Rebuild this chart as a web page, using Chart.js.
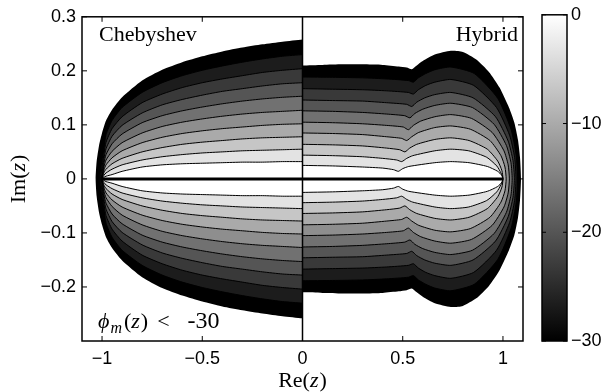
<!DOCTYPE html>
<html>
<head>
<meta charset="utf-8">
<script src="https://cdn.jsdelivr.net/npm/chart.js@4.4.1/dist/chart.umd.min.js"></script>
<style>
  html, body { margin: 0; padding: 0; background: #fff; }
  #wrap { position: relative; width: 608px; height: 392px; }
  #main { position: absolute; left: 0; top: 0; }
  #cbar { position: absolute; left: 530px; top: 0; }
</style>
</head>
<body>
<div id="wrap">
  <canvas id="main" width="530" height="392"></canvas>
  <canvas id="cbar" width="78" height="392"></canvas>
</div>
<script>
// contour levels, innermost (b1) to outermost (b10)
const levels = [-3, -6, -9, -12, -15, -18, -21, -24, -27, -30];
const xTicks = [-1, -0.5, 0, 0.5, 1];
const yTicks = [-0.2, -0.1, 0, 0.1, 0.2, 0.3];
const cbTicks = [-30, -20, -10, 0];
const cbRange = [-30, 0];

// Chebyshev (left half), upper side only - the plot is mirror symmetric in Im(z)
const chebX = [0, -0.1, -0.2, -0.3, -0.4, -0.5, -0.6, -0.7, -0.8, -0.9, -0.95, -0.98, -0.99];
const cheb1 = [.032, .032, .031, .031, .030, .029, .028, .026, .022, .014, .008, .005, .003];
const cheb2 = [.055, .054, .053, .052, .050, .048, .045, .041, .035, .026, .018, .011, .007];
const cheb3 = [.078, .077, .076, .074, .071, .068, .064, .058, .050, .038, .028, .018, .012];
const cheb4 = [.102, .101, .099, .096, .093, .089, .084, .077, .067, .052, .039, .026, .017];
const cheb5 = [.127, .125, .123, .120, .116, .111, .105, .097, .085, .067, .051, .035, .023];
const cheb6 = [.153, .151, .148, .144, .139, .133, .126, .117, .104, .083, .065, .045, .030];
const cheb7 = [.178, .176, .172, .167, .162, .155, .147, .137, .122, .099, .079, .056, .038];
const cheb8 = [.204, .201, .197, .191, .185, .178, .169, .157, .141, .115, .093, .068, .047];
const cheb9 = [.230, .227, .222, .216, .209, .201, .191, .178, .160, .132, .108, .082, .058];
// where each Chebyshev contour meets the real axis
const chebTipX = [-1.0, -1.0, -1.0, -1.0, -1.0, -1.0, -1.003, -1.007, -1.012];
const chebOuterX = [0, -0.1, -0.2, -0.3, -0.4, -0.5, -0.6, -0.7, -0.8, -0.9, -0.95, -0.98, -1.0, -1.015, -1.027, -1.032];
const chebOuterY = [.258, .254, .249, .243, .236, .227, .216, .202, .182, .151, .128, .108, .085, .062, .032, 0];

// Hybrid (right half), upper side, [Re, Im] pairs
const hyb1 = [[0,.025],[0.15,.024],[0.3,.022],[0.4,.020],[0.455,.017],[0.478,.014],[0.5,.019],[0.53,.023],[0.66,.030],[0.74,.032],[0.831,.030],[0.922,.023],[0.974,.014],[0.995,.006],[1.0,0]];
const hyb2 = [[0,.044],[0.15,.043],[0.3,.041],[0.4,.038],[0.47,.035],[0.495,.032],[0.52,.038],[0.55,.043],[0.66,.052],[0.74,.055],[0.829,.052],[0.919,.040],[0.969,.024],[0.99,.011],[1.0,0]];
const hyb3 = [[0,.064],[0.15,.063],[0.3,.061],[0.42,.057],[0.485,.054],[0.511,.050],[0.535,.057],[0.57,.064],[0.66,.073],[0.74,.076],[0.831,.071],[0.922,.055],[0.974,.033],[0.995,.015],[1.0,0]];
const hyb4 = [[0,.085],[0.15,.084],[0.3,.082],[0.42,.078],[0.495,.075],[0.52,.071],[0.545,.078],[0.58,.086],[0.66,.095],[0.74,.098],[0.837,.092],[0.935,.071],[0.99,.043],[1.010,.022],[1.016,0]];
const hyb5 = [[0,.105],[0.15,.104],[0.3,.102],[0.42,.099],[0.503,.096],[0.528,.091],[0.553,.099],[0.59,.107],[0.66,.115],[0.74,.119],[0.843,.112],[0.946,.086],[1.005,.052],[1.026,.026],[1.032,0]];
const hyb6 = [[0,.126],[0.15,.125],[0.3,.123],[0.42,.120],[0.51,.117],[0.536,.113],[0.56,.121],[0.6,.129],[0.66,.136],[0.74,.140],[0.848,.132],[0.956,.101],[1.017,.062],[1.040,.030],[1.046,0]];
const hyb7 = [[0,.146],[0.15,.145],[0.3,.144],[0.42,.141],[0.52,.138],[0.545,.134],[0.57,.142],[0.61,.150],[0.66,.156],[0.74,.160],[0.851,.150],[0.963,.115],[1.026,.070],[1.050,.034],[1.057,0]];
const hyb8 = [[0,.167],[0.15,.166],[0.3,.165],[0.42,.163],[0.528,.160],[0.553,.157],[0.578,.165],[0.615,.173],[0.66,.179],[0.74,.184],[0.854,.173],[0.968,.132],[1.033,.081],[1.058,.040],[1.065,0]];
const hyb9 = [[0,.1885],[0.15,.188],[0.3,.187],[0.42,.185],[0.528,.182],[0.553,.179],[0.578,.187],[0.615,.195],[0.66,.202],[0.74,.207],[0.857,.195],[0.974,.149],[1.041,.091],[1.066,.043],[1.073,0]];
const hybOuter = [[0,.210],[0.1,.211],[0.2,.212],[0.3,.212],[0.4,.211],[0.48,.208],[0.52,.206],[0.545,.203],[0.57,.210],[0.6,.218],[0.66,.230],[0.74,.237],[0.8,.235],[0.867,.221],[0.93,.198],[0.983,.169],[1.03,.132],[1.057,.104],[1.075,.072],[1.085,.040],[1.09,0]];

const chebCurves = [cheb1, cheb2, cheb3, cheb4, cheb5, cheb6, cheb7, cheb8, cheb9];
const hybCurves = [hyb1, hyb2, hyb3, hyb4, hyb5, hyb6, hyb7, hyb8, hyb9, hybOuter];

const SERIF = '"Liberation Serif", "DejaVu Serif", serif';
const SANS = '"Liberation Sans", Arial, sans-serif';
const tickFont = { family: SANS, size: 18 };
const fmt = v => v < 0 ? '\u2212' + String(-v) : String(v);

// gray colormap: innermost band white, outermost band (down to -30) black
function gray(k) {
  const g = Math.round(255 * (levels.length - 1 - k) / (levels.length - 1));
  return `rgb(${g},${g},${g})`;
}

// upper half + mirrored lower half -> closed outline
function closeShape(pts) {
  const low = pts.slice(0, -1).reverse().map(p => ({ x: p.x, y: -p.y }));
  return pts.concat(low);
}

const datasets = [];
function addShape(pts, k) {
  datasets.push({
    data: closeShape(pts),
    fill: 'shape',
    backgroundColor: gray(k),
    borderColor: '#000',
    borderWidth: k === 9 ? 0 : 1,
    pointRadius: 0,
    tension: 0.2,
    order: 10 + k
  });
}

chebCurves.forEach((ys, k) => {
  const pts = chebX.map((x, i) => ({ x, y: ys[i] }));
  pts.push({ x: chebTipX[k], y: 0 });
  addShape(pts, k);
});
addShape(chebOuterX.map((x, i) => ({ x, y: chebOuterY[i] })), 9);
hybCurves.forEach((c, k) => addShape(c.map(p => ({ x: p[0], y: p[1] })), k));

// lines Re = 0 and Im = 0
datasets.push({ data: [{ x: 0, y: -0.3 }, { x: 0, y: 0.3 }], borderColor: '#000', borderWidth: 1.5, pointRadius: 0, fill: false, order: 1 });
datasets.push({ data: [{ x: -1, y: 0 }, { x: 1, y: 0 }], borderColor: '#000', borderWidth: 3, pointRadius: 0, fill: false, order: 0 });

function drawRuns(ctx, runs, x, y, align) {
  let w = 0;
  runs.forEach(r => { ctx.font = r[1]; w += ctx.measureText(r[0]).width + (r[3] || 0); });
  let cx = align === 'center' ? x - w / 2 : align === 'right' ? x - w : x;
  runs.forEach(r => {
    ctx.font = r[1];
    ctx.fillText(r[0], cx, y + (r[2] || 0));
    cx += ctx.measureText(r[0]).width + (r[3] || 0);
  });
}

const frame = {
  id: 'frame',
  afterDraw(chart) {
    const { ctx, chartArea: a, scales: { x, y } } = chart;
    ctx.save();
    ctx.strokeStyle = '#000';
    ctx.lineWidth = 1;
    ctx.beginPath();
    xTicks.forEach(v => {
      const p = x.getPixelForValue(v);
      ctx.moveTo(p, a.bottom); ctx.lineTo(p, a.bottom - 5);
      ctx.moveTo(p, a.top); ctx.lineTo(p, a.top + 5);
    });
    yTicks.forEach(v => {
      const p = y.getPixelForValue(v);
      ctx.moveTo(a.left, p); ctx.lineTo(a.left + 5, p);
      ctx.moveTo(a.right, p); ctx.lineTo(a.right - 5, p);
    });
    ctx.stroke();
    ctx.lineWidth = 1.5;
    ctx.strokeRect(a.left, a.top, a.right - a.left, a.bottom - a.top);

    ctx.fillStyle = '#000';
    ctx.textAlign = 'left';
    ctx.textBaseline = 'alphabetic';
    const R = '22px ' + SERIF, I = 'italic 22px ' + SERIF, S = 'italic 16px ' + SERIF;
    drawRuns(ctx, [['Chebyshev', R]], a.left + 17, a.top + 24, 'left');
    drawRuns(ctx, [['Hybrid', R]], a.right - 5, a.top + 24, 'right');
    drawRuns(ctx, [['\u03d5', I, 0, 1], ['m', S, 5, 2], ['(', R], ['z', I, 0, 1], [')', R, 0, 9], ['<', R, 0, 18], ['-30', '24px ' + SERIF]],
      a.left + 16, a.bottom - 13, 'left');
    drawRuns(ctx, [['Re(', R], ['z', I, 0, 1], [')', R]], (a.left + a.right) / 2, 387, 'center');
    ctx.translate(25, (a.top + a.bottom) / 2);
    ctx.rotate(-Math.PI / 2);
    drawRuns(ctx, [['Im(', R], ['z', I, 0, 1], [')', R]], 0, 0, 'center');
    ctx.restore();
  }
};

new Chart(document.getElementById('main'), {
  type: 'line',
  data: { datasets },
  options: {
    responsive: false,
    animation: false,
    layout: { padding: { top: 12, right: 7, left: 0, bottom: 0 } },
    plugins: {
      legend: { display: false },
      tooltip: { enabled: false },
      filler: { drawTime: 'beforeDatasetsDraw' }
    },
    scales: {
      x: {
        type: 'linear', min: -1.1, max: 1.1,
        afterBuildTicks: s => { s.ticks = xTicks.map(v => ({ value: v })); },
        afterFit: s => { s.height = 51; },
        grid: { display: false, drawTicks: false },
        border: { display: false },
        ticks: { padding: 7, color: '#000', font: tickFont, maxRotation: 0, autoSkip: false, callback: fmt }
      },
      y: {
        type: 'linear', min: -0.3, max: 0.3,
        afterBuildTicks: s => { s.ticks = yTicks.map(v => ({ value: v })); },
        afterFit: s => { s.width = 82; },
        grid: { display: false, drawTicks: false },
        border: { display: false },
        ticks: { padding: 6, color: '#000', font: tickFont, autoSkip: false, callback: fmt }
      }
    }
  },
  plugins: [frame]
});

// colorbar
const cbFrame = {
  id: 'cbFrame',
  afterDraw(chart) {
    const { ctx, chartArea: a, scales: { y } } = chart;
    ctx.save();
    ctx.strokeStyle = '#000';
    ctx.lineWidth = 1;
    ctx.beginPath();
    cbTicks.forEach(v => {
      const p = y.getPixelForValue(v);
      ctx.moveTo(a.left, p); ctx.lineTo(a.left + 4, p);
      ctx.moveTo(a.right, p); ctx.lineTo(a.right - 4, p);
    });
    ctx.stroke();
    ctx.lineWidth = 1.5;
    ctx.strokeRect(a.left, a.top, a.right - a.left, a.bottom - a.top);
    ctx.restore();
  }
};

new Chart(document.getElementById('cbar'), {
  type: 'bar',
  data: {
    labels: [''],
    datasets: [{
      data: [cbRange],
      backgroundColor: c => {
        const ca = c.chart.chartArea;
        if (!ca) return '#777';
        const g = c.chart.ctx.createLinearGradient(0, ca.bottom, 0, ca.top);
        g.addColorStop(0, '#000');
        g.addColorStop(1, '#fff');
        return g;
      },
      borderWidth: 0,
      barPercentage: 1,
      categoryPercentage: 1
    }]
  },
  options: {
    responsive: false,
    animation: false,
    layout: { padding: { left: 12, top: 12, bottom: 51, right: 0 } },
    plugins: { legend: { display: false }, tooltip: { enabled: false } },
    scales: {
      x: { display: false },
      y: {
        position: 'right', min: cbRange[0], max: cbRange[1],
        afterBuildTicks: s => { s.ticks = cbTicks.map(v => ({ value: v })); },
        afterFit: s => { s.width = 41; },
        grid: { display: false, drawTicks: false },
        border: { display: false },
        ticks: { padding: 4, color: '#000', font: tickFont, callback: fmt }
      }
    }
  },
  plugins: [cbFrame]
});
</script>
</body>
</html>
